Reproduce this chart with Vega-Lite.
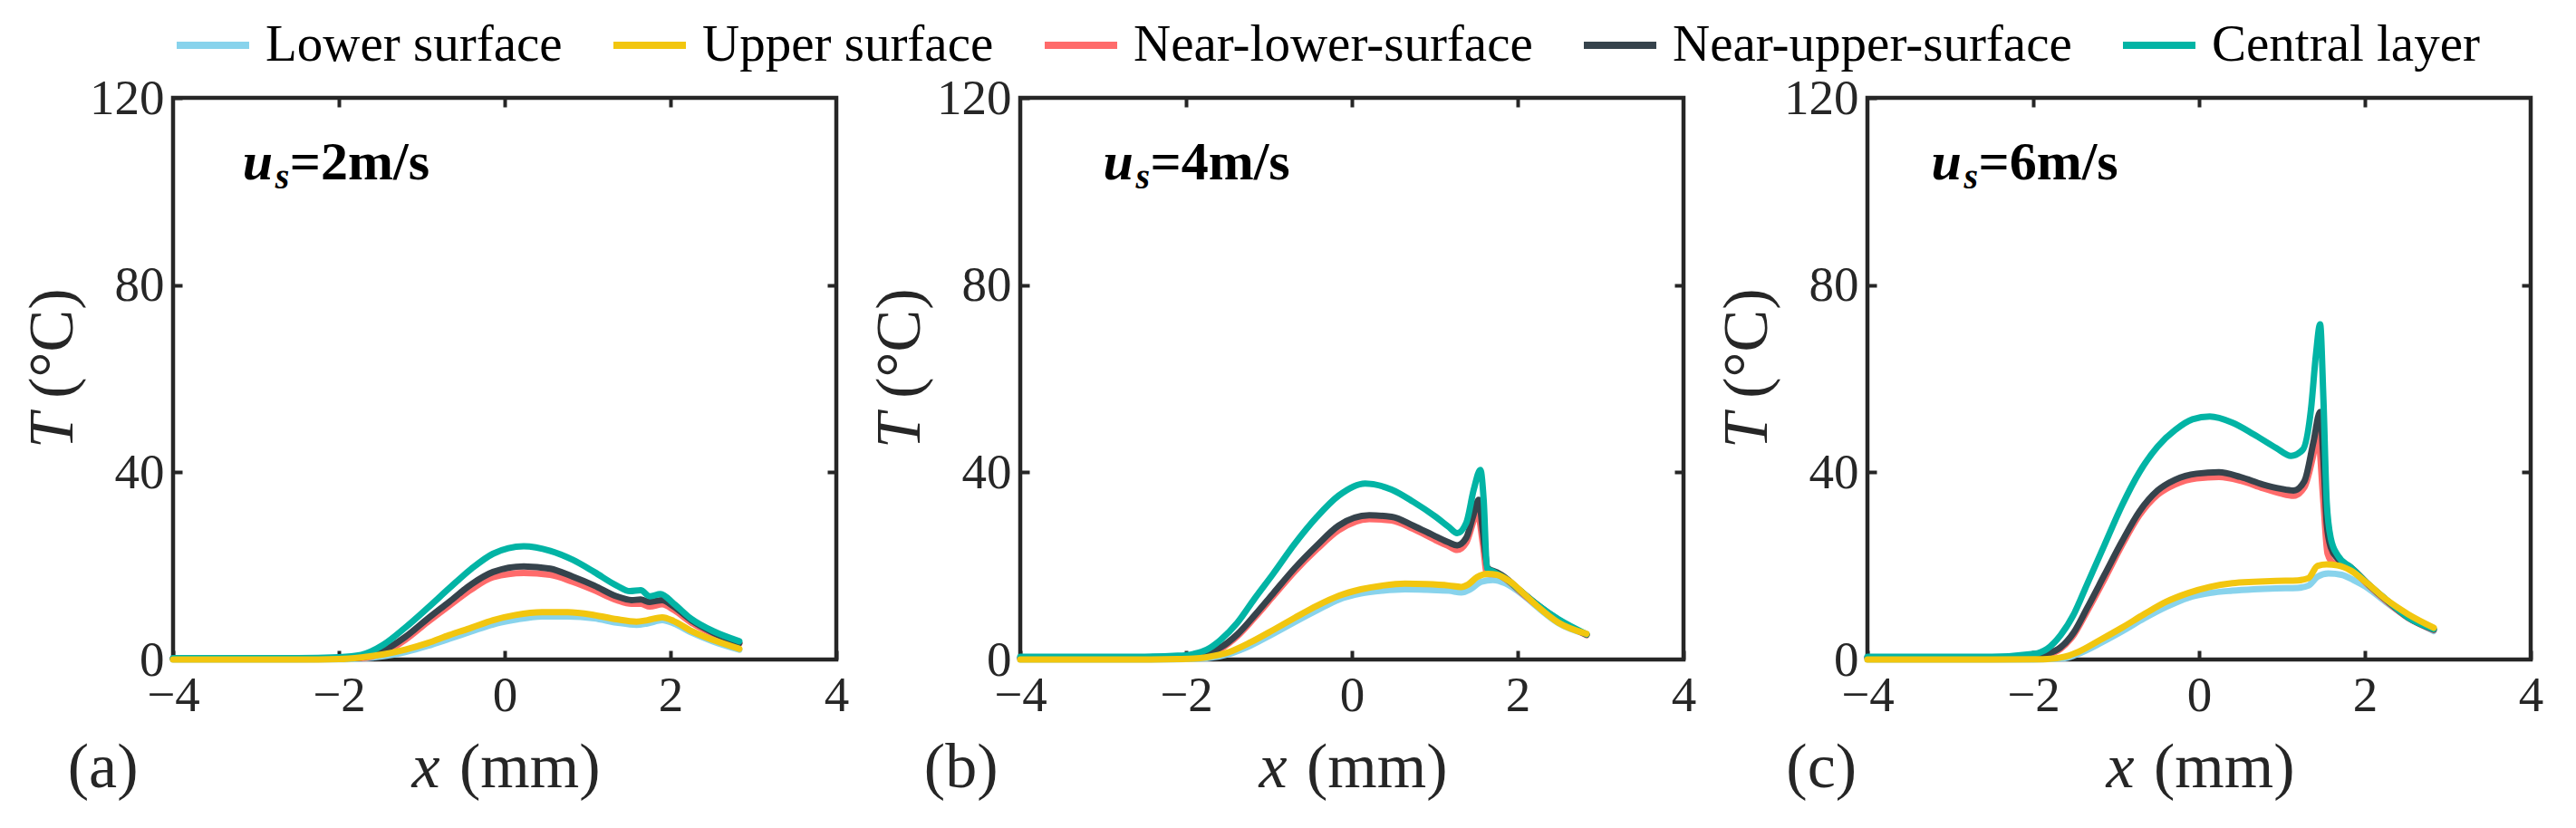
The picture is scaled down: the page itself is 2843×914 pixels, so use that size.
{
  "$schema": "https://vega.github.io/schema/vega-lite/v6.json",
  "autosize": {"type": "none"},
  "padding": {"left": 191, "top": 108, "right": 2652, "bottom": 806},
  "background": "white",
  "config": {
    "font": "Liberation Serif",
    "view": {"stroke": "#262626", "strokeWidth": 4.5},
    "axis": {
      "grid": false, "domain": false,
      "labelFont": "Liberation Serif", "labelFontSize": 55, "labelColor": "#262626",
      "tickColor": "#262626", "tickWidth": 4, "tickSize": -10,
      "labelFlush": false, "labelOverlap": false, "labelBound": false
    },
    "legend": {
      "labelFont": "Liberation Serif", "labelFontSize": 57, "labelColor": "#000000",
      "symbolType": "stroke", "symbolSize": 6400, "symbolStrokeWidth": 8,
      "labelOffset": 14, "columnPadding": 40, "padding": 0, "labelLimit": 0
    }
  },
  "datasets": {
    "curves": [
      {"p":"a","s":"Lower surface","x":-4,"T":0},{"p":"a","s":"Lower surface","x":-2.5,"T":0},{"p":"a","s":"Lower surface","x":-2.0,"T":0.05},{"p":"a","s":"Lower surface","x":-1.73,"T":0.2},{"p":"a","s":"Lower surface","x":-1.46,"T":0.7},{"p":"a","s":"Lower surface","x":-1.2,"T":1.6},{"p":"a","s":"Lower surface","x":-0.93,"T":2.9},{"p":"a","s":"Lower surface","x":-0.67,"T":4.4},{"p":"a","s":"Lower surface","x":-0.4,"T":6.0},{"p":"a","s":"Lower surface","x":-0.14,"T":7.5},{"p":"a","s":"Lower surface","x":0.13,"T":8.5},{"p":"a","s":"Lower surface","x":0.45,"T":9.2},{"p":"a","s":"Lower surface","x":0.76,"T":9.2},{"p":"a","s":"Lower surface","x":1.08,"T":8.8},{"p":"a","s":"Lower surface","x":1.35,"T":7.9},{"p":"a","s":"Lower surface","x":1.59,"T":7.4},{"p":"a","s":"Lower surface","x":1.72,"T":7.7},{"p":"a","s":"Lower surface","x":1.9,"T":8.4},{"p":"a","s":"Lower surface","x":2.04,"T":7.7},{"p":"a","s":"Lower surface","x":2.25,"T":5.8},{"p":"a","s":"Lower surface","x":2.51,"T":3.9},{"p":"a","s":"Lower surface","x":2.83,"T":2.1},
      {"p":"a","s":"Near-lower-surface","x":-4,"T":0.2},{"p":"a","s":"Near-lower-surface","x":-2.5,"T":0.2},{"p":"a","s":"Near-lower-surface","x":-2.0,"T":0.3},{"p":"a","s":"Near-lower-surface","x":-1.73,"T":0.3},{"p":"a","s":"Near-lower-surface","x":-1.46,"T":1.5},{"p":"a","s":"Near-lower-surface","x":-1.2,"T":4.2},{"p":"a","s":"Near-lower-surface","x":-0.93,"T":8.0},{"p":"a","s":"Near-lower-surface","x":-0.67,"T":11.5},{"p":"a","s":"Near-lower-surface","x":-0.4,"T":15.0},{"p":"a","s":"Near-lower-surface","x":-0.14,"T":17.6},{"p":"a","s":"Near-lower-surface","x":0.23,"T":18.5},{"p":"a","s":"Near-lower-surface","x":0.55,"T":18.1},{"p":"a","s":"Near-lower-surface","x":0.82,"T":16.6},{"p":"a","s":"Near-lower-surface","x":1.08,"T":14.8},{"p":"a","s":"Near-lower-surface","x":1.35,"T":12.7},{"p":"a","s":"Near-lower-surface","x":1.53,"T":11.9},{"p":"a","s":"Near-lower-surface","x":1.64,"T":11.9},{"p":"a","s":"Near-lower-surface","x":1.75,"T":11.3},{"p":"a","s":"Near-lower-surface","x":1.9,"T":11.8},{"p":"a","s":"Near-lower-surface","x":2.04,"T":10.6},{"p":"a","s":"Near-lower-surface","x":2.25,"T":7.9},{"p":"a","s":"Near-lower-surface","x":2.51,"T":5.5},{"p":"a","s":"Near-lower-surface","x":2.83,"T":3.4},
      {"p":"a","s":"Near-upper-surface","x":-4,"T":0.2},{"p":"a","s":"Near-upper-surface","x":-2.5,"T":0.2},{"p":"a","s":"Near-upper-surface","x":-2.0,"T":0.3},{"p":"a","s":"Near-upper-surface","x":-1.73,"T":0.45},{"p":"a","s":"Near-upper-surface","x":-1.46,"T":1.9},{"p":"a","s":"Near-upper-surface","x":-1.2,"T":4.8},{"p":"a","s":"Near-upper-surface","x":-0.93,"T":8.7},{"p":"a","s":"Near-upper-surface","x":-0.67,"T":12.3},{"p":"a","s":"Near-upper-surface","x":-0.4,"T":16.1},{"p":"a","s":"Near-upper-surface","x":-0.14,"T":18.7},{"p":"a","s":"Near-upper-surface","x":0.23,"T":19.9},{"p":"a","s":"Near-upper-surface","x":0.55,"T":19.4},{"p":"a","s":"Near-upper-surface","x":0.82,"T":17.7},{"p":"a","s":"Near-upper-surface","x":1.08,"T":15.8},{"p":"a","s":"Near-upper-surface","x":1.35,"T":13.5},{"p":"a","s":"Near-upper-surface","x":1.53,"T":12.7},{"p":"a","s":"Near-upper-surface","x":1.64,"T":12.8},{"p":"a","s":"Near-upper-surface","x":1.75,"T":12.3},{"p":"a","s":"Near-upper-surface","x":1.9,"T":12.7},{"p":"a","s":"Near-upper-surface","x":2.04,"T":11.3},{"p":"a","s":"Near-upper-surface","x":2.25,"T":8.4},{"p":"a","s":"Near-upper-surface","x":2.51,"T":5.8},{"p":"a","s":"Near-upper-surface","x":2.83,"T":3.5},
      {"p":"a","s":"Central layer","x":-4,"T":0.3},{"p":"a","s":"Central layer","x":-2.5,"T":0.3},{"p":"a","s":"Central layer","x":-2.0,"T":0.5},{"p":"a","s":"Central layer","x":-1.73,"T":1.0},{"p":"a","s":"Central layer","x":-1.46,"T":3.2},{"p":"a","s":"Central layer","x":-1.2,"T":6.8},{"p":"a","s":"Central layer","x":-0.93,"T":11.0},{"p":"a","s":"Central layer","x":-0.67,"T":15.2},{"p":"a","s":"Central layer","x":-0.4,"T":19.4},{"p":"a","s":"Central layer","x":-0.14,"T":22.6},{"p":"a","s":"Central layer","x":0.23,"T":24.2},{"p":"a","s":"Central layer","x":0.55,"T":23.2},{"p":"a","s":"Central layer","x":0.82,"T":21.3},{"p":"a","s":"Central layer","x":1.08,"T":18.7},{"p":"a","s":"Central layer","x":1.35,"T":15.8},{"p":"a","s":"Central layer","x":1.51,"T":14.6},{"p":"a","s":"Central layer","x":1.64,"T":14.8},{"p":"a","s":"Central layer","x":1.75,"T":13.5},{"p":"a","s":"Central layer","x":1.88,"T":14.0},{"p":"a","s":"Central layer","x":2.04,"T":11.9},{"p":"a","s":"Central layer","x":2.25,"T":8.7},{"p":"a","s":"Central layer","x":2.51,"T":6.1},{"p":"a","s":"Central layer","x":2.83,"T":3.9},
      {"p":"a","s":"Upper surface","x":-4,"T":0},{"p":"a","s":"Upper surface","x":-2.5,"T":0},{"p":"a","s":"Upper surface","x":-2.0,"T":0.1},{"p":"a","s":"Upper surface","x":-1.73,"T":0.45},{"p":"a","s":"Upper surface","x":-1.46,"T":1.1},{"p":"a","s":"Upper surface","x":-1.2,"T":2.1},{"p":"a","s":"Upper surface","x":-0.93,"T":3.5},{"p":"a","s":"Upper surface","x":-0.67,"T":5.2},{"p":"a","s":"Upper surface","x":-0.4,"T":6.8},{"p":"a","s":"Upper surface","x":-0.14,"T":8.4},{"p":"a","s":"Upper surface","x":0.13,"T":9.5},{"p":"a","s":"Upper surface","x":0.45,"T":10.1},{"p":"a","s":"Upper surface","x":0.76,"T":10.1},{"p":"a","s":"Upper surface","x":1.08,"T":9.5},{"p":"a","s":"Upper surface","x":1.35,"T":8.6},{"p":"a","s":"Upper surface","x":1.59,"T":8.1},{"p":"a","s":"Upper surface","x":1.72,"T":8.4},{"p":"a","s":"Upper surface","x":1.9,"T":9.0},{"p":"a","s":"Upper surface","x":2.04,"T":8.2},{"p":"a","s":"Upper surface","x":2.25,"T":6.1},{"p":"a","s":"Upper surface","x":2.51,"T":4.2},{"p":"a","s":"Upper surface","x":2.83,"T":2.3},

      {"p":"b","s":"Lower surface","x":-4,"T":0},{"p":"b","s":"Lower surface","x":-2.5,"T":0},{"p":"b","s":"Lower surface","x":-2.1,"T":0.05},{"p":"b","s":"Lower surface","x":-1.75,"T":0.3},{"p":"b","s":"Lower surface","x":-1.48,"T":1.2},{"p":"b","s":"Lower surface","x":-1.22,"T":3.0},{"p":"b","s":"Lower surface","x":-0.95,"T":5.5},{"p":"b","s":"Lower surface","x":-0.69,"T":8.0},{"p":"b","s":"Lower surface","x":-0.42,"T":10.5},{"p":"b","s":"Lower surface","x":-0.16,"T":12.8},{"p":"b","s":"Lower surface","x":0.11,"T":14.1},{"p":"b","s":"Lower surface","x":0.37,"T":14.7},{"p":"b","s":"Lower surface","x":0.64,"T":15.0},{"p":"b","s":"Lower surface","x":0.9,"T":14.9},{"p":"b","s":"Lower surface","x":1.17,"T":14.7},{"p":"b","s":"Lower surface","x":1.32,"T":14.3},{"p":"b","s":"Lower surface","x":1.43,"T":15.0},{"p":"b","s":"Lower surface","x":1.56,"T":16.6},{"p":"b","s":"Lower surface","x":1.7,"T":17.0},{"p":"b","s":"Lower surface","x":1.85,"T":16.3},{"p":"b","s":"Lower surface","x":2.07,"T":13.7},{"p":"b","s":"Lower surface","x":2.23,"T":11.3},{"p":"b","s":"Lower surface","x":2.49,"T":7.8},{"p":"b","s":"Lower surface","x":2.83,"T":5.4},
      {"p":"b","s":"Near-lower-surface","x":-4,"T":0.3},{"p":"b","s":"Near-lower-surface","x":-2.5,"T":0.3},{"p":"b","s":"Near-lower-surface","x":-2.1,"T":0.4},{"p":"b","s":"Near-lower-surface","x":-1.75,"T":1.0},{"p":"b","s":"Near-lower-surface","x":-1.59,"T":2.2},{"p":"b","s":"Near-lower-surface","x":-1.38,"T":5.0},{"p":"b","s":"Near-lower-surface","x":-1.17,"T":9.0},{"p":"b","s":"Near-lower-surface","x":-0.95,"T":13.5},{"p":"b","s":"Near-lower-surface","x":-0.69,"T":18.8},{"p":"b","s":"Near-lower-surface","x":-0.42,"T":23.6},{"p":"b","s":"Near-lower-surface","x":-0.16,"T":27.6},{"p":"b","s":"Near-lower-surface","x":0.21,"T":30.0},{"p":"b","s":"Near-lower-surface","x":0.48,"T":29.7},{"p":"b","s":"Near-lower-surface","x":0.74,"T":27.9},{"p":"b","s":"Near-lower-surface","x":1.01,"T":25.5},{"p":"b","s":"Near-lower-surface","x":1.17,"T":24.2},{"p":"b","s":"Near-lower-surface","x":1.27,"T":23.4},{"p":"b","s":"Near-lower-surface","x":1.38,"T":25.0},{"p":"b","s":"Near-lower-surface","x":1.46,"T":29.2},{"p":"b","s":"Near-lower-surface","x":1.51,"T":31.8},{"p":"b","s":"Near-lower-surface","x":1.58,"T":24.7},{"p":"b","s":"Near-lower-surface","x":1.63,"T":18.3},{"p":"b","s":"Near-lower-surface","x":1.75,"T":18.2},{"p":"b","s":"Near-lower-surface","x":1.85,"T":17.2},{"p":"b","s":"Near-lower-surface","x":2.01,"T":14.8},{"p":"b","s":"Near-lower-surface","x":2.23,"T":11.6},{"p":"b","s":"Near-lower-surface","x":2.49,"T":8.4},{"p":"b","s":"Near-lower-surface","x":2.83,"T":5.2},
      {"p":"b","s":"Near-upper-surface","x":-4,"T":0.3},{"p":"b","s":"Near-upper-surface","x":-2.5,"T":0.3},{"p":"b","s":"Near-upper-surface","x":-2.1,"T":0.5},{"p":"b","s":"Near-upper-surface","x":-1.75,"T":1.2},{"p":"b","s":"Near-upper-surface","x":-1.59,"T":2.5},{"p":"b","s":"Near-upper-surface","x":-1.38,"T":5.4},{"p":"b","s":"Near-upper-surface","x":-1.17,"T":9.5},{"p":"b","s":"Near-upper-surface","x":-0.95,"T":14.1},{"p":"b","s":"Near-upper-surface","x":-0.69,"T":19.5},{"p":"b","s":"Near-upper-surface","x":-0.42,"T":24.4},{"p":"b","s":"Near-upper-surface","x":-0.16,"T":28.6},{"p":"b","s":"Near-upper-surface","x":0.21,"T":30.8},{"p":"b","s":"Near-upper-surface","x":0.48,"T":30.5},{"p":"b","s":"Near-upper-surface","x":0.74,"T":28.6},{"p":"b","s":"Near-upper-surface","x":1.01,"T":26.3},{"p":"b","s":"Near-upper-surface","x":1.17,"T":25.0},{"p":"b","s":"Near-upper-surface","x":1.27,"T":24.4},{"p":"b","s":"Near-upper-surface","x":1.38,"T":26.0},{"p":"b","s":"Near-upper-surface","x":1.46,"T":30.5},{"p":"b","s":"Near-upper-surface","x":1.53,"T":34.1},{"p":"b","s":"Near-upper-surface","x":1.58,"T":27.3},{"p":"b","s":"Near-upper-surface","x":1.64,"T":19.5},{"p":"b","s":"Near-upper-surface","x":1.75,"T":18.6},{"p":"b","s":"Near-upper-surface","x":1.85,"T":17.5},{"p":"b","s":"Near-upper-surface","x":2.01,"T":15.0},{"p":"b","s":"Near-upper-surface","x":2.23,"T":11.8},{"p":"b","s":"Near-upper-surface","x":2.49,"T":8.5},{"p":"b","s":"Near-upper-surface","x":2.83,"T":5.3},
      {"p":"b","s":"Central layer","x":-4,"T":0.6},{"p":"b","s":"Central layer","x":-2.5,"T":0.6},{"p":"b","s":"Central layer","x":-2.1,"T":0.8},{"p":"b","s":"Central layer","x":-1.91,"T":1.2},{"p":"b","s":"Central layer","x":-1.75,"T":2.1},{"p":"b","s":"Central layer","x":-1.59,"T":4.1},{"p":"b","s":"Central layer","x":-1.38,"T":7.9},{"p":"b","s":"Central layer","x":-1.17,"T":13.1},{"p":"b","s":"Central layer","x":-0.95,"T":18.3},{"p":"b","s":"Central layer","x":-0.69,"T":24.7},{"p":"b","s":"Central layer","x":-0.42,"T":30.5},{"p":"b","s":"Central layer","x":-0.16,"T":35.0},{"p":"b","s":"Central layer","x":0.16,"T":37.6},{"p":"b","s":"Central layer","x":0.48,"T":36.3},{"p":"b","s":"Central layer","x":0.74,"T":33.7},{"p":"b","s":"Central layer","x":1.01,"T":30.5},{"p":"b","s":"Central layer","x":1.17,"T":28.3},{"p":"b","s":"Central layer","x":1.27,"T":27.0},{"p":"b","s":"Central layer","x":1.38,"T":29.2},{"p":"b","s":"Central layer","x":1.47,"T":36.3},{"p":"b","s":"Central layer","x":1.55,"T":40.5},{"p":"b","s":"Central layer","x":1.59,"T":34.0},{"p":"b","s":"Central layer","x":1.63,"T":19.5},{"p":"b","s":"Central layer","x":1.7,"T":18.8},{"p":"b","s":"Central layer","x":1.85,"T":17.3},{"p":"b","s":"Central layer","x":2.01,"T":15.0},{"p":"b","s":"Central layer","x":2.23,"T":11.8},{"p":"b","s":"Central layer","x":2.49,"T":8.6},{"p":"b","s":"Central layer","x":2.83,"T":5.4},
      {"p":"b","s":"Upper surface","x":-4,"T":0},{"p":"b","s":"Upper surface","x":-2.5,"T":0},{"p":"b","s":"Upper surface","x":-2.1,"T":0.1},{"p":"b","s":"Upper surface","x":-1.91,"T":0.2},{"p":"b","s":"Upper surface","x":-1.75,"T":0.5},{"p":"b","s":"Upper surface","x":-1.48,"T":1.6},{"p":"b","s":"Upper surface","x":-1.22,"T":3.7},{"p":"b","s":"Upper surface","x":-0.95,"T":6.3},{"p":"b","s":"Upper surface","x":-0.69,"T":8.9},{"p":"b","s":"Upper surface","x":-0.42,"T":11.5},{"p":"b","s":"Upper surface","x":-0.16,"T":13.6},{"p":"b","s":"Upper surface","x":0.11,"T":15.0},{"p":"b","s":"Upper surface","x":0.37,"T":15.8},{"p":"b","s":"Upper surface","x":0.64,"T":16.2},{"p":"b","s":"Upper surface","x":0.9,"T":16.1},{"p":"b","s":"Upper surface","x":1.17,"T":15.8},{"p":"b","s":"Upper surface","x":1.32,"T":15.5},{"p":"b","s":"Upper surface","x":1.4,"T":16.0},{"p":"b","s":"Upper surface","x":1.51,"T":17.6},{"p":"b","s":"Upper surface","x":1.64,"T":18.3},{"p":"b","s":"Upper surface","x":1.75,"T":18.1},{"p":"b","s":"Upper surface","x":1.91,"T":16.6},{"p":"b","s":"Upper surface","x":2.07,"T":14.1},{"p":"b","s":"Upper surface","x":2.23,"T":11.5},{"p":"b","s":"Upper surface","x":2.49,"T":7.9},{"p":"b","s":"Upper surface","x":2.83,"T":5.5},

      {"p":"c","s":"Lower surface","x":-4,"T":0},{"p":"c","s":"Lower surface","x":-2.5,"T":0},{"p":"c","s":"Lower surface","x":-1.99,"T":0.02},{"p":"c","s":"Lower surface","x":-1.62,"T":0.3},{"p":"c","s":"Lower surface","x":-1.46,"T":1.2},{"p":"c","s":"Lower surface","x":-1.19,"T":3.5},{"p":"c","s":"Lower surface","x":-0.93,"T":6.0},{"p":"c","s":"Lower surface","x":-0.66,"T":8.8},{"p":"c","s":"Lower surface","x":-0.4,"T":11.2},{"p":"c","s":"Lower surface","x":-0.13,"T":13.2},{"p":"c","s":"Lower surface","x":0.13,"T":14.2},{"p":"c","s":"Lower surface","x":0.4,"T":14.7},{"p":"c","s":"Lower surface","x":0.66,"T":15.0},{"p":"c","s":"Lower surface","x":0.93,"T":15.2},{"p":"c","s":"Lower surface","x":1.19,"T":15.3},{"p":"c","s":"Lower surface","x":1.32,"T":15.8},{"p":"c","s":"Lower surface","x":1.43,"T":17.7},{"p":"c","s":"Lower surface","x":1.56,"T":18.4},{"p":"c","s":"Lower surface","x":1.72,"T":18.1},{"p":"c","s":"Lower surface","x":1.88,"T":16.8},{"p":"c","s":"Lower surface","x":2.04,"T":15.2},{"p":"c","s":"Lower surface","x":2.25,"T":12.3},{"p":"c","s":"Lower surface","x":2.52,"T":9.0},{"p":"c","s":"Lower surface","x":2.83,"T":6.1},
      {"p":"c","s":"Near-lower-surface","x":-4,"T":0.5},{"p":"c","s":"Near-lower-surface","x":-2.5,"T":0.5},{"p":"c","s":"Near-lower-surface","x":-1.99,"T":0.5},{"p":"c","s":"Near-lower-surface","x":-1.83,"T":1.0},{"p":"c","s":"Near-lower-surface","x":-1.67,"T":2.3},{"p":"c","s":"Near-lower-surface","x":-1.51,"T":5.3},{"p":"c","s":"Near-lower-surface","x":-1.35,"T":10.3},{"p":"c","s":"Near-lower-surface","x":-1.14,"T":17.2},{"p":"c","s":"Near-lower-surface","x":-0.93,"T":24.4},{"p":"c","s":"Near-lower-surface","x":-0.72,"T":30.8},{"p":"c","s":"Near-lower-surface","x":-0.5,"T":35.2},{"p":"c","s":"Near-lower-surface","x":-0.29,"T":37.4},{"p":"c","s":"Near-lower-surface","x":-0.03,"T":38.7},{"p":"c","s":"Near-lower-surface","x":0.24,"T":39.0},{"p":"c","s":"Near-lower-surface","x":0.5,"T":38.2},{"p":"c","s":"Near-lower-surface","x":0.77,"T":36.6},{"p":"c","s":"Near-lower-surface","x":0.98,"T":35.5},{"p":"c","s":"Near-lower-surface","x":1.14,"T":35.0},{"p":"c","s":"Near-lower-surface","x":1.27,"T":36.8},{"p":"c","s":"Near-lower-surface","x":1.38,"T":43.9},{"p":"c","s":"Near-lower-surface","x":1.43,"T":48.4},{"p":"c","s":"Near-lower-surface","x":1.5,"T":33.5},{"p":"c","s":"Near-lower-surface","x":1.55,"T":22.6},{"p":"c","s":"Near-lower-surface","x":1.62,"T":20.6},{"p":"c","s":"Near-lower-surface","x":1.83,"T":19.5},{"p":"c","s":"Near-lower-surface","x":2.04,"T":15.9},{"p":"c","s":"Near-lower-surface","x":2.25,"T":12.6},{"p":"c","s":"Near-lower-surface","x":2.52,"T":8.9},{"p":"c","s":"Near-lower-surface","x":2.83,"T":6.3},
      {"p":"c","s":"Near-upper-surface","x":-4,"T":0.4},{"p":"c","s":"Near-upper-surface","x":-2.5,"T":0.4},{"p":"c","s":"Near-upper-surface","x":-1.99,"T":0.6},{"p":"c","s":"Near-upper-surface","x":-1.83,"T":1.2},{"p":"c","s":"Near-upper-surface","x":-1.67,"T":2.6},{"p":"c","s":"Near-upper-surface","x":-1.51,"T":5.8},{"p":"c","s":"Near-upper-surface","x":-1.35,"T":11.0},{"p":"c","s":"Near-upper-surface","x":-1.14,"T":18.1},{"p":"c","s":"Near-upper-surface","x":-0.93,"T":25.2},{"p":"c","s":"Near-upper-surface","x":-0.72,"T":31.6},{"p":"c","s":"Near-upper-surface","x":-0.5,"T":36.1},{"p":"c","s":"Near-upper-surface","x":-0.29,"T":38.4},{"p":"c","s":"Near-upper-surface","x":-0.03,"T":39.7},{"p":"c","s":"Near-upper-surface","x":0.24,"T":40.0},{"p":"c","s":"Near-upper-surface","x":0.5,"T":39.0},{"p":"c","s":"Near-upper-surface","x":0.77,"T":37.4},{"p":"c","s":"Near-upper-surface","x":0.98,"T":36.5},{"p":"c","s":"Near-upper-surface","x":1.14,"T":36.1},{"p":"c","s":"Near-upper-surface","x":1.27,"T":38.1},{"p":"c","s":"Near-upper-surface","x":1.38,"T":46.5},{"p":"c","s":"Near-upper-surface","x":1.46,"T":52.9},{"p":"c","s":"Near-upper-surface","x":1.5,"T":42.6},{"p":"c","s":"Near-upper-surface","x":1.54,"T":29.0},{"p":"c","s":"Near-upper-surface","x":1.59,"T":23.9},{"p":"c","s":"Near-upper-surface","x":1.67,"T":21.6},{"p":"c","s":"Near-upper-surface","x":1.83,"T":19.7},{"p":"c","s":"Near-upper-surface","x":2.04,"T":16.1},{"p":"c","s":"Near-upper-surface","x":2.25,"T":12.8},{"p":"c","s":"Near-upper-surface","x":2.52,"T":9.0},{"p":"c","s":"Near-upper-surface","x":2.83,"T":6.4},
      {"p":"c","s":"Central layer","x":-4,"T":0.6},{"p":"c","s":"Central layer","x":-2.5,"T":0.6},{"p":"c","s":"Central layer","x":-1.99,"T":1.2},{"p":"c","s":"Central layer","x":-1.83,"T":2.3},{"p":"c","s":"Central layer","x":-1.67,"T":5.2},{"p":"c","s":"Central layer","x":-1.51,"T":9.7},{"p":"c","s":"Central layer","x":-1.35,"T":16.1},{"p":"c","s":"Central layer","x":-1.14,"T":24.5},{"p":"c","s":"Central layer","x":-0.93,"T":32.9},{"p":"c","s":"Central layer","x":-0.72,"T":40.0},{"p":"c","s":"Central layer","x":-0.5,"T":45.5},{"p":"c","s":"Central layer","x":-0.29,"T":49.0},{"p":"c","s":"Central layer","x":-0.08,"T":51.3},{"p":"c","s":"Central layer","x":0.13,"T":51.9},{"p":"c","s":"Central layer","x":0.4,"T":50.6},{"p":"c","s":"Central layer","x":0.66,"T":48.1},{"p":"c","s":"Central layer","x":0.93,"T":45.2},{"p":"c","s":"Central layer","x":1.11,"T":43.5},{"p":"c","s":"Central layer","x":1.25,"T":44.8},{"p":"c","s":"Central layer","x":1.35,"T":53.5},{"p":"c","s":"Central layer","x":1.41,"T":65.2},{"p":"c","s":"Central layer","x":1.46,"T":71.6},{"p":"c","s":"Central layer","x":1.5,"T":55.5},{"p":"c","s":"Central layer","x":1.54,"T":33.5},{"p":"c","s":"Central layer","x":1.59,"T":25.8},{"p":"c","s":"Central layer","x":1.67,"T":22.3},{"p":"c","s":"Central layer","x":1.83,"T":19.7},{"p":"c","s":"Central layer","x":2.04,"T":16.1},{"p":"c","s":"Central layer","x":2.25,"T":12.9},{"p":"c","s":"Central layer","x":2.52,"T":9.0},{"p":"c","s":"Central layer","x":2.83,"T":6.5},
      {"p":"c","s":"Upper surface","x":-4,"T":0},{"p":"c","s":"Upper surface","x":-2.5,"T":0},{"p":"c","s":"Upper surface","x":-1.99,"T":0.05},{"p":"c","s":"Upper surface","x":-1.83,"T":0.1},{"p":"c","s":"Upper surface","x":-1.62,"T":0.6},{"p":"c","s":"Upper surface","x":-1.46,"T":1.6},{"p":"c","s":"Upper surface","x":-1.19,"T":4.2},{"p":"c","s":"Upper surface","x":-0.93,"T":6.8},{"p":"c","s":"Upper surface","x":-0.66,"T":9.7},{"p":"c","s":"Upper surface","x":-0.4,"T":12.3},{"p":"c","s":"Upper surface","x":-0.13,"T":14.2},{"p":"c","s":"Upper surface","x":0.13,"T":15.5},{"p":"c","s":"Upper surface","x":0.4,"T":16.3},{"p":"c","s":"Upper surface","x":0.66,"T":16.6},{"p":"c","s":"Upper surface","x":0.93,"T":16.8},{"p":"c","s":"Upper surface","x":1.19,"T":16.9},{"p":"c","s":"Upper surface","x":1.32,"T":17.4},{"p":"c","s":"Upper surface","x":1.43,"T":20.0},{"p":"c","s":"Upper surface","x":1.54,"T":20.3},{"p":"c","s":"Upper surface","x":1.67,"T":20.1},{"p":"c","s":"Upper surface","x":1.83,"T":19.0},{"p":"c","s":"Upper surface","x":2.04,"T":16.1},{"p":"c","s":"Upper surface","x":2.25,"T":12.9},{"p":"c","s":"Upper surface","x":2.52,"T":9.7},{"p":"c","s":"Upper surface","x":2.83,"T":6.8}
    ],
    "notes": [
      {"p":"a","role":"speed","x":-3.16,"T":102.5,"text":"=2m/s"},
      {"p":"b","role":"speed","x":-3.0,"T":102.5,"text":"=4m/s"},
      {"p":"c","role":"speed","x":-3.23,"T":102.5,"text":"=6m/s"},
      {"p":"a","role":"tag","x":-5.27,"T":-27.3,"text":"(a)"},
      {"p":"b","role":"tag","x":-5.16,"T":-27.3,"text":"(b)"},
      {"p":"c","role":"tag","x":-4.98,"T":-27.3,"text":"(c)"}
    ],
    "titles": [
      {"role":"xvar","x":-1.12,"T":-27.3,"text":"x"},
      {"role":"xunit","x":-0.547,"T":-27.3,"text":"(mm)"},
      {"role":"yvar","x":-5.213,"T":45.1,"text":"T"},
      {"role":"yunit","x":-5.213,"T":55.8,"text":"(°C)"}
    ]
  },
  "hconcat": [
    {
      "width": 732, "height": 620,
      "resolve": {"axis": {"x": "independent", "y": "independent"}},
      "layer": [
        {
          "data": {"name": "curves"},
          "transform": [{"filter": "datum.p == 'a'"}],
          "mark": {"type": "line", "strokeWidth": 7, "strokeCap": "round", "strokeJoin": "round", "interpolate": "monotone"},
          "encoding": {
            "x": {"field": "x", "type": "quantitative", "scale": {"domain": [-4, 4], "nice": false, "zero": false},
                  "axis": {"orient": "bottom", "values": [-4, -2, 0, 2, 4], "labelPadding": 23, "title": null}},
            "y": {"field": "T", "type": "quantitative", "scale": {"domain": [0, 120], "nice": false},
                  "axis": {"orient": "left", "values": [0, 40, 80, 120], "labelPadding": 20, "title": null}},
            "color": {"field": "s", "type": "nominal",
                      "scale": {"domain": ["Lower surface", "Upper surface", "Near-lower-surface", "Near-upper-surface", "Central layer"],
                                "range": ["#88D3EC", "#F2C60F", "#FF6B6B", "#36434C", "#02B4A5"]},
                      "legend": {"orient": "none", "direction": "horizontal", "legendX": 0, "legendY": -102, "title": null}}
          }
        },
        {
          "data": {"name": "notes"},
          "transform": [{"filter": "datum.p == 'a' && datum.role == 'speed'"}],
          "mark": {"type": "text", "fontSize": 60, "fontWeight": "bold", "fontStyle": "italic", "align": "left", "baseline": "alphabetic", "color": "#000000"},
          "encoding": {
            "x": {"field": "x", "type": "quantitative", "axis": {"orient": "top", "values": [-2, 0, 2], "labels": false, "title": null}},
            "y": {"field": "T", "type": "quantitative", "axis": {"orient": "right", "values": [40, 80], "labels": false, "title": null}},
            "text": {"value": "u"}
          }
        },
        {
          "data": {"name": "notes"},
          "transform": [{"filter": "datum.p == 'a' && datum.role == 'speed'"}],
          "mark": {"type": "text", "fontSize": 40, "fontWeight": "bold", "fontStyle": "italic", "align": "left", "baseline": "alphabetic", "dx": 36, "dy": 10, "color": "#000000"},
          "encoding": {
            "x": {"field": "x", "type": "quantitative", "axis": null},
            "y": {"field": "T", "type": "quantitative", "axis": null},
            "text": {"value": "s"}
          }
        },
        {
          "data": {"name": "notes"},
          "transform": [{"filter": "datum.p == 'a' && datum.role == 'speed'"}],
          "mark": {"type": "text", "fontSize": 60, "fontWeight": "bold", "align": "left", "baseline": "alphabetic", "dx": 52, "color": "#000000"},
          "encoding": {
            "x": {"field": "x", "type": "quantitative", "axis": null},
            "y": {"field": "T", "type": "quantitative", "axis": null},
            "text": {"field": "text"}
          }
        },
        {
          "data": {"name": "notes"},
          "transform": [{"filter": "datum.p == 'a' && datum.role == 'tag'"}],
          "mark": {"type": "text", "fontSize": 70, "align": "left", "baseline": "alphabetic", "color": "#262626"},
          "encoding": {
            "x": {"field": "x", "type": "quantitative", "axis": null},
            "y": {"field": "T", "type": "quantitative", "axis": null},
            "text": {"field": "text"}
          }
        },
        {
          "data": {"name": "titles"},
          "transform": [{"filter": "datum.role == 'xvar' || datum.role == 'yvar'"}],
          "mark": {"type": "text", "fontSize": 70, "fontStyle": "italic", "align": "left", "baseline": "alphabetic", "color": "#262626"},
          "encoding": {
            "x": {"field": "x", "type": "quantitative", "axis": null},
            "y": {"field": "T", "type": "quantitative", "axis": null},
            "text": {"field": "text"},
            "angle": {"condition": {"test": "datum.role == 'yvar'", "value": 270}, "value": 0}
          }
        },
        {
          "data": {"name": "titles"},
          "transform": [{"filter": "datum.role == 'xunit' || datum.role == 'yunit'"}],
          "mark": {"type": "text", "fontSize": 70, "align": "left", "baseline": "alphabetic", "color": "#262626"},
          "encoding": {
            "x": {"field": "x", "type": "quantitative", "axis": null},
            "y": {"field": "T", "type": "quantitative", "axis": null},
            "text": {"field": "text"},
            "angle": {"condition": {"test": "datum.role == 'yunit'", "value": 270}, "value": 0}
          }
        }
      ]
    },
    {
      "width": 732, "height": 620,
      "resolve": {"axis": {"x": "independent", "y": "independent"}},
      "layer": [
        {
          "data": {"name": "curves"},
          "transform": [{"filter": "datum.p == 'b'"}],
          "mark": {"type": "line", "strokeWidth": 7, "strokeCap": "round", "strokeJoin": "round", "interpolate": "monotone"},
          "encoding": {
            "x": {"field": "x", "type": "quantitative", "scale": {"domain": [-4, 4], "nice": false, "zero": false},
                  "axis": {"orient": "bottom", "values": [-4, -2, 0, 2, 4], "labelPadding": 23, "title": null}},
            "y": {"field": "T", "type": "quantitative", "scale": {"domain": [0, 120], "nice": false},
                  "axis": {"orient": "left", "values": [0, 40, 80, 120], "labelPadding": 20, "title": null}},
            "color": {"field": "s", "type": "nominal",
                      "scale": {"domain": ["Lower surface", "Upper surface", "Near-lower-surface", "Near-upper-surface", "Central layer"],
                                "range": ["#88D3EC", "#F2C60F", "#FF6B6B", "#36434C", "#02B4A5"]},
                      "legend": {"orient": "none", "direction": "horizontal", "legendX": 0, "legendY": -102, "title": null}}
          }
        },
        {
          "data": {"name": "notes"},
          "transform": [{"filter": "datum.p == 'b' && datum.role == 'speed'"}],
          "mark": {"type": "text", "fontSize": 60, "fontWeight": "bold", "fontStyle": "italic", "align": "left", "baseline": "alphabetic", "color": "#000000"},
          "encoding": {
            "x": {"field": "x", "type": "quantitative", "axis": {"orient": "top", "values": [-2, 0, 2], "labels": false, "title": null}},
            "y": {"field": "T", "type": "quantitative", "axis": {"orient": "right", "values": [40, 80], "labels": false, "title": null}},
            "text": {"value": "u"}
          }
        },
        {
          "data": {"name": "notes"},
          "transform": [{"filter": "datum.p == 'b' && datum.role == 'speed'"}],
          "mark": {"type": "text", "fontSize": 40, "fontWeight": "bold", "fontStyle": "italic", "align": "left", "baseline": "alphabetic", "dx": 36, "dy": 10, "color": "#000000"},
          "encoding": {
            "x": {"field": "x", "type": "quantitative", "axis": null},
            "y": {"field": "T", "type": "quantitative", "axis": null},
            "text": {"value": "s"}
          }
        },
        {
          "data": {"name": "notes"},
          "transform": [{"filter": "datum.p == 'b' && datum.role == 'speed'"}],
          "mark": {"type": "text", "fontSize": 60, "fontWeight": "bold", "align": "left", "baseline": "alphabetic", "dx": 52, "color": "#000000"},
          "encoding": {
            "x": {"field": "x", "type": "quantitative", "axis": null},
            "y": {"field": "T", "type": "quantitative", "axis": null},
            "text": {"field": "text"}
          }
        },
        {
          "data": {"name": "notes"},
          "transform": [{"filter": "datum.p == 'b' && datum.role == 'tag'"}],
          "mark": {"type": "text", "fontSize": 70, "align": "left", "baseline": "alphabetic", "color": "#262626"},
          "encoding": {
            "x": {"field": "x", "type": "quantitative", "axis": null},
            "y": {"field": "T", "type": "quantitative", "axis": null},
            "text": {"field": "text"}
          }
        },
        {
          "data": {"name": "titles"},
          "transform": [{"filter": "datum.role == 'xvar' || datum.role == 'yvar'"}],
          "mark": {"type": "text", "fontSize": 70, "fontStyle": "italic", "align": "left", "baseline": "alphabetic", "color": "#262626"},
          "encoding": {
            "x": {"field": "x", "type": "quantitative", "axis": null},
            "y": {"field": "T", "type": "quantitative", "axis": null},
            "text": {"field": "text"},
            "angle": {"condition": {"test": "datum.role == 'yvar'", "value": 270}, "value": 0}
          }
        },
        {
          "data": {"name": "titles"},
          "transform": [{"filter": "datum.role == 'xunit' || datum.role == 'yunit'"}],
          "mark": {"type": "text", "fontSize": 70, "align": "left", "baseline": "alphabetic", "color": "#262626"},
          "encoding": {
            "x": {"field": "x", "type": "quantitative", "axis": null},
            "y": {"field": "T", "type": "quantitative", "axis": null},
            "text": {"field": "text"},
            "angle": {"condition": {"test": "datum.role == 'yunit'", "value": 270}, "value": 0}
          }
        }
      ]
    },
    {
      "width": 732, "height": 620,
      "resolve": {"axis": {"x": "independent", "y": "independent"}},
      "layer": [
        {
          "data": {"name": "curves"},
          "transform": [{"filter": "datum.p == 'c'"}],
          "mark": {"type": "line", "strokeWidth": 7, "strokeCap": "round", "strokeJoin": "round", "interpolate": "monotone"},
          "encoding": {
            "x": {"field": "x", "type": "quantitative", "scale": {"domain": [-4, 4], "nice": false, "zero": false},
                  "axis": {"orient": "bottom", "values": [-4, -2, 0, 2, 4], "labelPadding": 23, "title": null}},
            "y": {"field": "T", "type": "quantitative", "scale": {"domain": [0, 120], "nice": false},
                  "axis": {"orient": "left", "values": [0, 40, 80, 120], "labelPadding": 20, "title": null}},
            "color": {"field": "s", "type": "nominal",
                      "scale": {"domain": ["Lower surface", "Upper surface", "Near-lower-surface", "Near-upper-surface", "Central layer"],
                                "range": ["#88D3EC", "#F2C60F", "#FF6B6B", "#36434C", "#02B4A5"]},
                      "legend": {"orient": "none", "direction": "horizontal", "legendX": 0, "legendY": -102, "title": null}}
          }
        },
        {
          "data": {"name": "notes"},
          "transform": [{"filter": "datum.p == 'c' && datum.role == 'speed'"}],
          "mark": {"type": "text", "fontSize": 60, "fontWeight": "bold", "fontStyle": "italic", "align": "left", "baseline": "alphabetic", "color": "#000000"},
          "encoding": {
            "x": {"field": "x", "type": "quantitative", "axis": {"orient": "top", "values": [-2, 0, 2], "labels": false, "title": null}},
            "y": {"field": "T", "type": "quantitative", "axis": {"orient": "right", "values": [40, 80], "labels": false, "title": null}},
            "text": {"value": "u"}
          }
        },
        {
          "data": {"name": "notes"},
          "transform": [{"filter": "datum.p == 'c' && datum.role == 'speed'"}],
          "mark": {"type": "text", "fontSize": 40, "fontWeight": "bold", "fontStyle": "italic", "align": "left", "baseline": "alphabetic", "dx": 36, "dy": 10, "color": "#000000"},
          "encoding": {
            "x": {"field": "x", "type": "quantitative", "axis": null},
            "y": {"field": "T", "type": "quantitative", "axis": null},
            "text": {"value": "s"}
          }
        },
        {
          "data": {"name": "notes"},
          "transform": [{"filter": "datum.p == 'c' && datum.role == 'speed'"}],
          "mark": {"type": "text", "fontSize": 60, "fontWeight": "bold", "align": "left", "baseline": "alphabetic", "dx": 52, "color": "#000000"},
          "encoding": {
            "x": {"field": "x", "type": "quantitative", "axis": null},
            "y": {"field": "T", "type": "quantitative", "axis": null},
            "text": {"field": "text"}
          }
        },
        {
          "data": {"name": "notes"},
          "transform": [{"filter": "datum.p == 'c' && datum.role == 'tag'"}],
          "mark": {"type": "text", "fontSize": 70, "align": "left", "baseline": "alphabetic", "color": "#262626"},
          "encoding": {
            "x": {"field": "x", "type": "quantitative", "axis": null},
            "y": {"field": "T", "type": "quantitative", "axis": null},
            "text": {"field": "text"}
          }
        },
        {
          "data": {"name": "titles"},
          "transform": [{"filter": "datum.role == 'xvar' || datum.role == 'yvar'"}],
          "mark": {"type": "text", "fontSize": 70, "fontStyle": "italic", "align": "left", "baseline": "alphabetic", "color": "#262626"},
          "encoding": {
            "x": {"field": "x", "type": "quantitative", "axis": null},
            "y": {"field": "T", "type": "quantitative", "axis": null},
            "text": {"field": "text"},
            "angle": {"condition": {"test": "datum.role == 'yvar'", "value": 270}, "value": 0}
          }
        },
        {
          "data": {"name": "titles"},
          "transform": [{"filter": "datum.role == 'xunit' || datum.role == 'yunit'"}],
          "mark": {"type": "text", "fontSize": 70, "align": "left", "baseline": "alphabetic", "color": "#262626"},
          "encoding": {
            "x": {"field": "x", "type": "quantitative", "axis": null},
            "y": {"field": "T", "type": "quantitative", "axis": null},
            "text": {"field": "text"},
            "angle": {"condition": {"test": "datum.role == 'yunit'", "value": 270}, "value": 0}
          }
        }
      ]
    }
  ],
  "spacing": 203,
  "bounds": "flush"
}
